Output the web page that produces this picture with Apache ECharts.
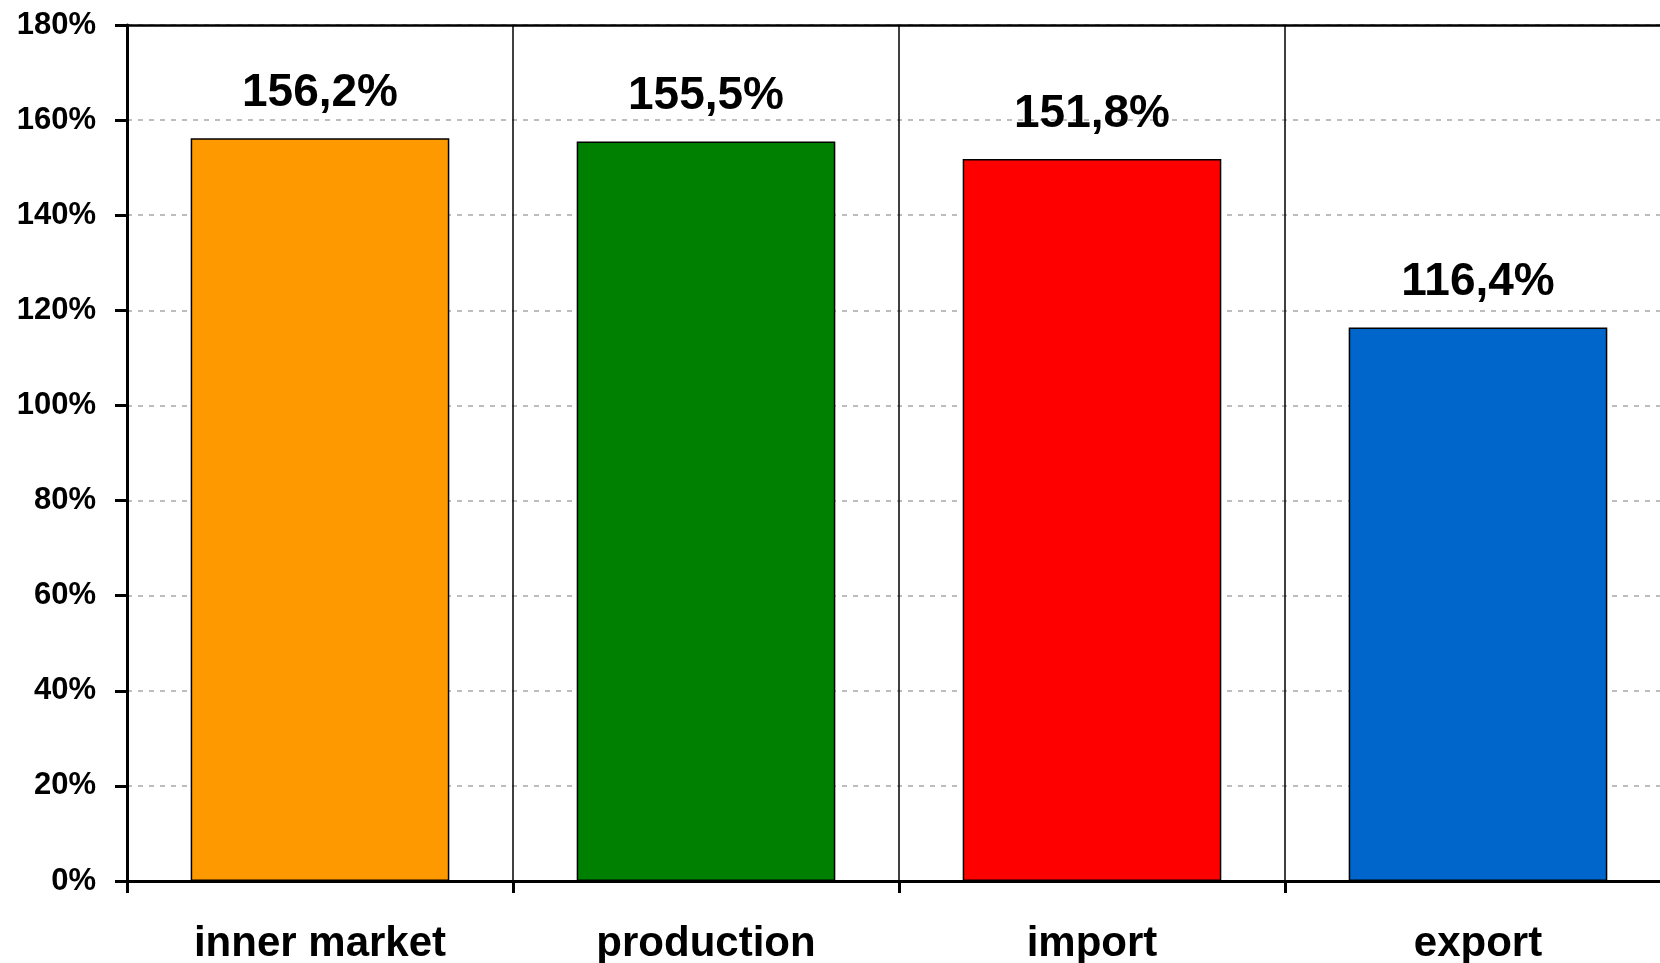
<!DOCTYPE html>
<html><head><meta charset="utf-8">
<script src="https://cdn.jsdelivr.net/npm/echarts@6/dist/echarts.min.js"></script>
<style>html,body{margin:0;padding:0;background:#fff}#c{width:1660px;height:963px}</style>
</head><body><div id="c"></div>
<script>
const categories = ['inner market', 'production', 'import', 'export'];
const values = [156.2, 155.5, 151.8, 116.4];
const colors = ['#FF9900', '#008000', '#FF0000', '#0066CC'];
const yTicks = [0, 20, 40, 60, 80, 100, 120, 140, 160, 180];

const font = '"Liberation Sans", Arial, sans-serif';
const chart = echarts.init(document.getElementById('c'));
chart.setOption({
  animation: false,
  grid: { left: 127, top: 25, bottom: 82, width: 1544, containLabel: false, outerBoundsMode: 'none' },
  xAxis: [{
    type: 'category', data: categories, boundaryGap: true,
    axisLine: { show: true, lineStyle: { color: '#000', width: 3 } },
    axisTick: { show: true, length: 12, lineStyle: { color: '#000', width: 3 }, alignWithLabel: false },
    axisLabel: { color: '#000', fontFamily: font, fontWeight: 'bold', fontSize: 42, margin: 42 },
    splitLine: { show: true, lineStyle: { color: '#000', width: 1.5 } }
  }, {
    type: 'category', data: categories, position: 'top',
    axisLine: { show: true, lineStyle: { color: '#000', width: 2.5 } },
    axisTick: { show: false }, axisLabel: { show: false }, splitLine: { show: false }
  }],
  yAxis: {
    type: 'value', min: yTicks[0], max: yTicks[yTicks.length - 1], interval: 20,
    axisLine: { show: true, lineStyle: { color: '#000', width: 3 } },
    axisTick: { show: true, length: 12, lineStyle: { color: '#000', width: 3 } },
    axisLabel: { color: '#000', fontFamily: font, fontWeight: 'bold', fontSize: 31, margin: 31,
      formatter: v => v + '%' },
    splitLine: { show: true, lineStyle: { color: '#BDBDBD', width: 2, type: [5, 6] } }
  },
  series: [{
    type: 'bar', barCategoryGap: '33%',
    data: values.map((v, i) => ({ value: v, itemStyle: { color: colors[i] } })),
    itemStyle: { borderColor: '#000', borderWidth: 1.5 },
    label: { show: true, position: 'top', distance: 22, color: '#000', fontFamily: font,
      fontWeight: 'bold', fontSize: 46,
      formatter: p => p.value.toFixed(1).replace('.', ',') + '%' }
  }]
});
</script></body></html>
